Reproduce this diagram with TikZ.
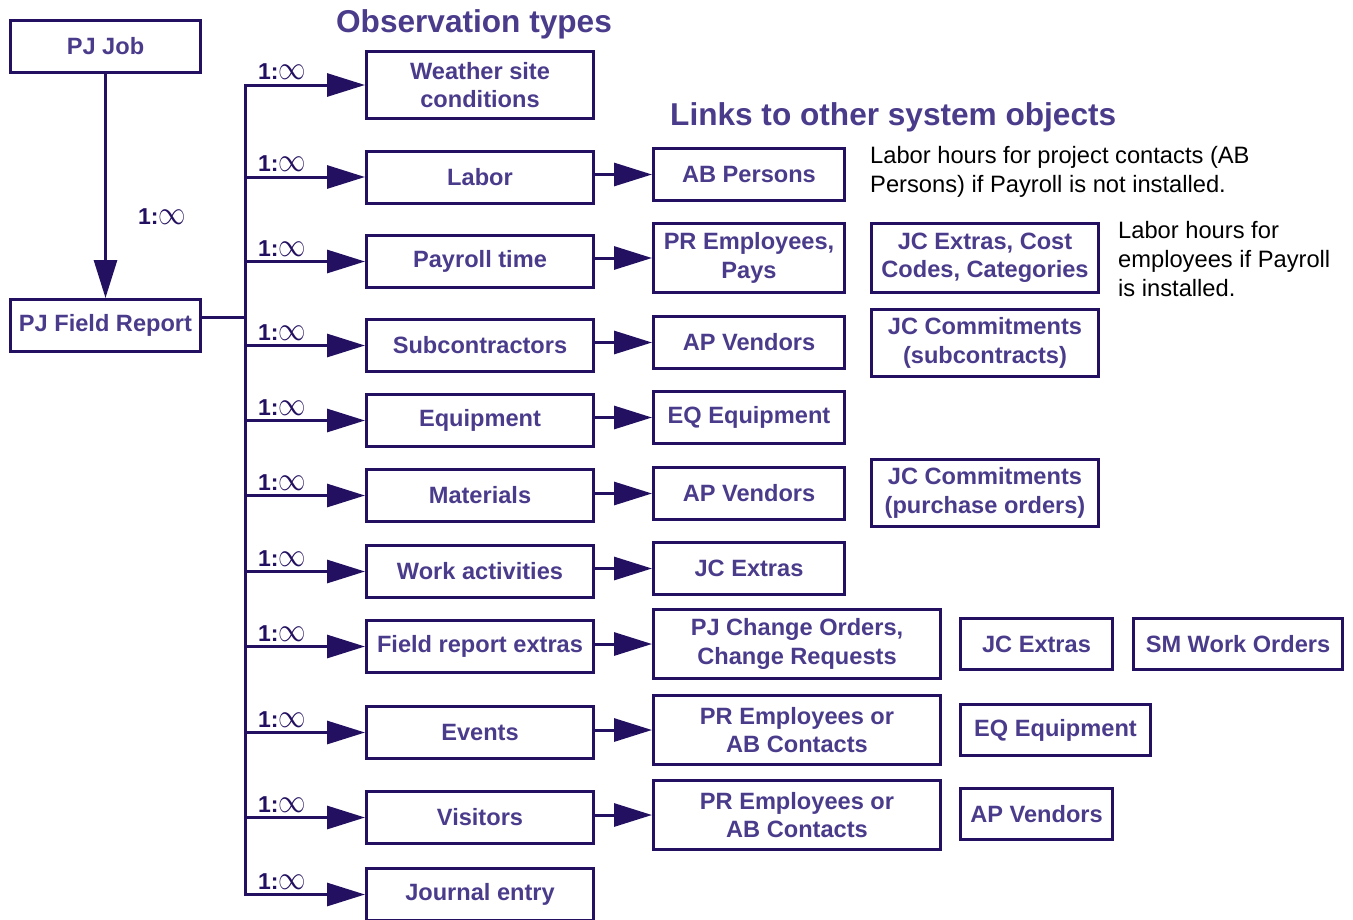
\documentclass[tikz,border=0pt]{standalone}
\usepackage{fontspec}
\setmainfont{Liberation Sans}
\usetikzlibrary{arrows.meta,calc}
\definecolor{lc}{RGB}{36,16,96}
\definecolor{tc}{RGB}{75,59,139}
\newcommand{\oneinf}{\textbf{1:}\scalebox{1.1}[1.35]{$\infty$}}
\begin{document}
\begin{tikzpicture}[x=1pt,y=-1pt,
  box/.style={draw=lc,line width=3pt,text=tc,font=\bfseries\fontsize{23.6}{28.5}\selectfont,align=center,inner sep=0pt},
  obs/.style={box,minimum width=227pt,minimum height=52pt},
  lk/.style={box,minimum width=191pt,minimum height=52pt},
  lkw/.style={box,minimum width=287pt,minimum height=69pt},
  arr/.style={draw=lc,line width=3pt,-{Triangle[length=38pt,width=23pt]}},
  ln/.style={draw=lc,line width=3pt},
  card/.style={text=lc,font=\fontsize{23}{28}\selectfont,anchor=base west,inner sep=0pt},
  note/.style={font=\fontsize{23.7}{29.3}\selectfont,align=left,anchor=north west,inner sep=0pt},
  ttl/.style={text=tc,font=\bfseries\fontsize{31.6}{36}\selectfont,inner sep=0pt}]
\useasboundingbox (0,0) rectangle (1353,919);
\clip (0,0) rectangle (1353,919);

% titles
\node[ttl,anchor=base] (t1) at (474,32) {Observation types};
\node[ttl,anchor=base west] (t2) at (670,125) {Links to other system objects};

% left column
\node[box,minimum width=190pt,minimum height=52pt] (job) at (105.5,46.5) {PJ Job};
\node[box,minimum width=190pt,minimum height=52pt] (fr) at (105.5,325.5) {PJ Field Report};
\draw[arr] (job.south) -- (fr.north);
\node[card] (c-job) at (138,224) {\oneinf};

% observation types
\node[obs,minimum height=67pt] (wx) at (480,85) {Weather site\\conditions};
\node[obs] (lab) at (480,177) {Labor};
\node[obs] (pay) at (480,261.5) {Payroll time};
\node[obs] (sub) at (480,345.5) {Subcontractors};
\node[obs] (eqp) at (480,420.5) {Equipment};
\node[obs] (mat) at (480,495.5) {Materials};
\node[obs] (wrk) at (480,571.5) {Work activities};
\node[obs] (fre) at (480,646.5) {Field report extras};
\node[obs] (evt) at (480,732.5) {Events};
\node[obs] (vis) at (480,817.5) {Visitors};
\node[obs] (jou) at (480,894.5) {Journal entry};

% trunk
\coordinate (tk) at (245,0);
\coordinate (frj) at ($(fr.east)+(0,-8)$);
\draw[ln,line cap=rect] (tk |- wx.west) -- (tk |- jou.west);
\draw[ln] (frj) -- (tk |- frj);
\foreach \n in {wx,lab,pay,sub,eqp,mat,wrk,fre,evt,vis,jou}{
  \draw[arr] (tk |- \n.west) -- (\n.west);
  \node[card] (c-\n) at ($(tk |- \n.west)+(13,-5.5)$) {\oneinf};
}

% links
\node[lk] (ab) at (749,174.5) {AB Persons};
\node[lk,minimum height=69pt] (pre) at (749,258) {PR Employees,\\Pays};
\node[lk] (apv) at (749,342.5) {AP Vendors};
\node[lk] (eqe) at (749,417.5) {EQ Equipment};
\node[lk] (apv2) at (749,493.5) {AP Vendors};
\node[lk] (jce) at (749,568.5) {JC Extras};
\node[lkw] (pjc) at (797,644) {PJ Change Orders,\\Change Requests};
\node[lkw] (pea) at (797,730) {PR Employees or\\AB Contacts};
\node[lkw] (peb) at (797,815) {PR Employees or\\AB Contacts};

\draw[arr] (lab.east |- ab.west) -- (ab.west);
\draw[arr] (pay.east |- pre.west) -- (pre.west);
\draw[arr] (sub.east |- apv.west) -- (apv.west);
\draw[arr] (eqp.east |- eqe.west) -- (eqe.west);
\draw[arr] (mat.east |- apv2.west) -- (apv2.west);
\draw[arr] (wrk.east |- jce.west) -- (jce.west);
\draw[arr] (fre.east |- pjc.west) -- (pjc.west);
\draw[arr] (evt.east |- pea.west) -- (pea.west);
\draw[arr] (vis.east |- peb.west) -- (peb.west);

% third column
\node[box,minimum width=227pt,minimum height=69pt] (jcx) at (985,258) {JC Extras, Cost\\Codes, Categories};
\node[box,minimum width=227pt,minimum height=67pt] (jcs) at (985,343) {JC Commitments\\(subcontracts)};
\node[box,minimum width=227pt,minimum height=67pt] (jcp) at (985,493) {JC Commitments\\(purchase orders)};
\node[box,minimum width=152pt,minimum height=51pt] (jce2) at (1036.5,644) {JC Extras};
\node[box,minimum width=209pt,minimum height=51pt] (smw) at (1238,644) {SM Work Orders};
\node[box,minimum width=190pt,minimum height=51pt] (eqe2) at (1055.5,730) {EQ Equipment};
\node[box,minimum width=152pt,minimum height=51pt] (apv3) at (1036.5,814) {AP Vendors};

% notes
\node[note] (n1) at (870,146) {Labor hours for project contacts (AB\\Persons) if Payroll is not installed.};
\node[note] (n2) at (1118,221) {Labor hours for\\employees if Payroll\\is installed.};
\end{tikzpicture}
\end{document}
